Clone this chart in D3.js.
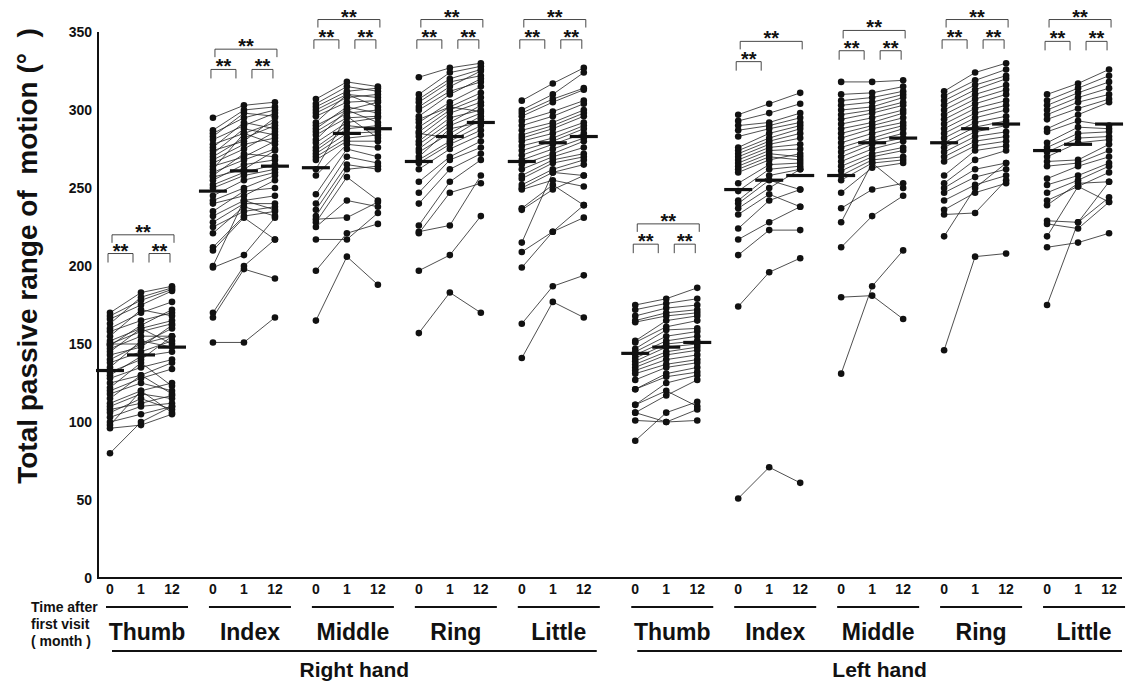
<!DOCTYPE html>
<html>
<head>
<meta charset="utf-8">
<script src="https://cdn.jsdelivr.net/npm/d3@7"></script>
<style>
  body { margin: 0; background: #fff; }
  text { font-family: "Liberation Sans", Arial, Helvetica, sans-serif; font-weight: bold; fill: #111; }
</style>
</head>
<body>
<svg id="chart" width="1133" height="684"></svg>
<script>
// categories
var hands = ["Right hand", "Left hand"];
var fingers = ["Thumb", "Index", "Middle", "Ring", "Little"];
var times = ["0", "1", "12"];
var yTicks = [0, 50, 100, 150, 200, 250, 300, 350];

// each subject: [0 month, 1 month, 12 months] total passive ROM (deg)
var rightThumb = [[170,183,187],[168,178,185],[166,175,184],[163,180,186],[160,170,177],[158,165,170],[155,172,168],[152,160,165],[150,158,163],[150,150,160],[149,162,172],[147,155,155],[145,160,150],[143,148,162],[140,150,155],[138,145,152],[135,152,148],[132,140,155],[130,142,145],[128,135,140],[125,130,138],[122,138,123],[120,128,134],[118,125,120],[115,130,118],[112,120,125],[110,118,115],[108,112,117],[106,115,108],[103,110,112],[100,105,110],[98,120,106],[96,98,105],[80,100,110]];
var rightIndex = [[295,303,305],[287,300,302],[285,295,300],[283,298,296],[281,290,298],[278,285,292],[276,292,288],[274,280,295],[272,288,284],[270,282,290],[268,278,282],[266,275,286],[264,270,280],[262,285,278],[260,268,275],[258,272,270],[257,262,274],[255,265,268],[252,260,265],[250,258,262],[245,255,260],[242,250,258],[240,245,255],[235,248,250],[232,242,245],[228,240,240],[225,235,238],[221,238,232],[212,232,235],[210,231,217],[200,242,236],[199,207,231],[170,200,217],[167,198,192],[151,151,167]];
var rightMiddle = [[307,318,315],[304,315,312],[302,312,314],[300,310,308],[298,308,310],[296,305,306],[292,310,302],[290,300,305],[288,302,298],[286,298,300],[284,295,296],[281,300,292],[279,292,295],[276,290,288],[274,288,290],[272,285,286],[270,282,284],[268,280,280],[262,296,282],[258,278,276],[246,275,270],[240,270,266],[236,265,262],[232,262,264],[230,231,241],[228,257,242],[225,242,238],[217,217,234],[197,221,227],[165,206,188]];
var rightRing = [[321,327,330],[310,324,328],[307,320,326],[305,318,322],[302,315,325],[300,312,318],[296,310,320],[294,302,299],[292,305,315],[289,302,311],[286,300,308],[285,282,294],[283,298,305],[280,295,300],[278,292,303],[275,290,298],[273,285,296],[270,288,292],[268,280,290],[266,278,287],[262,275,284],[254,270,280],[247,268,276],[240,262,272],[226,254,268],[222,226,258],[221,247,253],[197,207,232],[157,183,170]];
var rightLittle = [[306,317,327],[300,310,324],[298,307,314],[296,305,313],[293,299,306],[290,296,304],[287,292,300],[284,290,298],[282,288,296],[280,285,292],[277,282,290],[274,280,288],[271,278,285],[268,275,282],[265,272,280],[262,270,276],[258,268,272],[256,266,270],[252,262,268],[250,260,258],[249,255,251],[237,252,239],[236,249,258],[215,260,265],[209,222,231],[199,222,239],[163,187,194],[141,177,167]];
var leftThumb = [[175,179,186],[172,176,179],[168,173,175],[165,170,172],[164,168,170],[152,165,168],[151,161,165],[147,159,160],[145,155,158],[143,152,155],[141,150,152],[139,148,150],[137,145,148],[135,143,146],[133,140,143],[131,137,140],[127,135,138],[121,131,135],[121,129,132],[111,125,130],[111,120,110],[106,117,127],[106,100,108],[101,100,101],[88,106,113]];
var leftIndex = [[297,304,311],[293,298,304],[290,292,298],[287,290,295],[283,288,292],[276,285,290],[274,282,288],[272,280,285],[270,278,282],[268,276,278],[266,274,275],[264,272,270],[262,270,268],[260,268,272],[253,265,266],[248,262,264],[242,258,262],[240,255,249],[237,250,262],[233,246,238],[224,242,249],[217,228,238],[207,223,223],[174,196,205],[51,71,61]];
var leftMiddle = [[318,318,319],[310,311,315],[306,308,312],[303,305,310],[300,302,308],[297,300,305],[294,298,303],[291,295,300],[288,292,298],[285,290,295],[282,288,292],[279,285,290],[276,282,288],[273,280,285],[270,278,282],[267,275,280],[264,272,276],[261,270,274],[258,268,270],[255,266,268],[247,263,266],[237,249,253],[228,266,250],[212,232,245],[180,181,166],[131,187,210]];
var leftRing = [[312,324,330],[309,319,326],[306,316,322],[303,313,320],[300,310,316],[297,307,313],[294,304,310],[291,301,306],[288,298,303],[285,295,300],[282,292,296],[279,289,293],[276,286,290],[273,283,286],[270,280,283],[267,277,280],[258,274,277],[253,268,274],[250,262,266],[247,257,262],[242,252,258],[236,247,253],[233,234,255],[219,250,266],[146,206,208]];
var leftLittle = [[310,317,326],[306,314,322],[303,311,318],[300,308,314],[297,305,310],[294,301,307],[288,297,305],[286,293,290],[279,289,288],[276,285,286],[273,282,283],[270,279,281],[267,268,278],[264,266,274],[256,264,270],[252,258,266],[247,255,264],[242,251,260],[239,253,254],[229,228,244],[227,224,241],[219,251,241],[212,215,221],[175,228,254]];

// group means at 0, 1, 12 months (horizontal bars)
var meansRight = [[133,143,148],[248,261,264],[263,285,288],[267,283,292],[267,279,283]];
var meansLeft  = [[144,148,151],[249,255,258],[258,279,282],[279,288,291],[274,278,291]];

// significance brackets: levels (deg) of the short and the long bracket, and compared time pairs
var sigRight = [[208,220],[326,339],[345,358],[345,358],[345,358]];
var sigLeft  = [[214,227],[331,344],[338,351],[345,358],[344,358]];
var pairsAll = [[0,1],[1,2],[0,2]];
var pairsLeftIndex = [[0,1],[0,2]];

var subjects = {
  "Right hand": [rightThumb, rightIndex, rightMiddle, rightRing, rightLittle],
  "Left hand":  [leftThumb, leftIndex, leftMiddle, leftRing, leftLittle]
};
var groups = [];
hands.forEach(function(h){
  fingers.forEach(function(f, i){
    groups.push({
      hand: h, finger: f,
      subjects: subjects[h][i],
      means: (h == "Right hand" ? meansRight : meansLeft)[i],
      sig: (h == "Right hand" ? sigRight : sigLeft)[i],
      pairs: (h == "Left hand" && f == "Index") ? pairsLeftIndex : pairsAll
    });
  });
});

var svg = d3.select("#chart");
var axisX = 98;

var y = d3.scaleLinear().domain([0, 350]).range([578, 32]);

var handX = d3.scaleBand().domain(hands).range([100, 1140]).paddingInner(0.02);
var fingerX = d3.scaleBand().domain(fingers).range([0, handX.bandwidth()]);
var timeX = d3.scalePoint().domain(times).range([10, 72]);

function gx(g) { return handX(g.hand) + fingerX(g.finger); }

// y axis
var yAxis = d3.axisLeft(y).tickValues(yTicks).tickSize(0).tickPadding(6);
var ya = svg.append("g")
  .attr("transform", "translate(" + axisX + ",0)")
  .call(yAxis);
ya.select(".domain").remove();
ya.selectAll("text").style("font-size", "14px").style("font-family", null);
svg.append("line")
  .attr("x1", axisX).attr("x2", axisX)
  .attr("y1", y(350)).attr("y2", y(0))
  .attr("stroke", "#111").attr("stroke-width", 2);
svg.append("line")
  .attr("x1", axisX - 1).attr("x2", 1122)
  .attr("y1", y(0)).attr("y2", y(0))
  .attr("stroke", "#111").attr("stroke-width", 2);

// y title
svg.append("text")
  .attr("transform", "translate(37," + 256 + ") rotate(-90)")
  .attr("text-anchor", "middle")
  .style("font-size", "28px")
  .style("white-space", "pre")
  .text("Total passive range of  motion (\u00b0  )");

var line = d3.line()
  .x(function(d, i){ return timeX(times[i]); })
  .y(function(d){ return y(d); });

var gSel = svg.selectAll(".grp")
  .data(groups)
  .enter().append("g")
  .attr("class", "grp")
  .attr("transform", function(g){ return "translate(" + gx(g) + ",0)"; });

// subject lines
gSel.selectAll(".subj")
  .data(function(g){ return g.subjects; })
  .enter().append("path")
  .attr("d", line)
  .attr("fill", "none")
  .attr("stroke", "#222")
  .attr("stroke-width", 0.8);

// dots
gSel.selectAll(".dots")
  .data(function(g){ return g.subjects; })
  .enter().append("g")
  .selectAll("circle")
  .data(function(s){ return s; })
  .enter().append("circle")
  .attr("cx", function(d, i){ return timeX(times[i]); })
  .attr("cy", function(d){ return y(d); })
  .attr("r", 3.3)
  .attr("fill", "#111");

// mean bars
gSel.selectAll(".mean")
  .data(function(g){ return g.means; })
  .enter().append("line")
  .attr("x1", function(d, i){ return timeX(times[i]) - 14; })
  .attr("x2", function(d, i){ return timeX(times[i]) + 14; })
  .attr("y1", function(d){ return y(d); })
  .attr("y2", function(d){ return y(d); })
  .attr("stroke", "#111")
  .attr("stroke-width", 3.2);

// significance brackets
gSel.each(function(g){
  var sel = d3.select(this);
  g.pairs.forEach(function(p){
    var longOne = (p[1] - p[0]) == 2;
    var x1, x2, lev, leg;
    if (longOne) {
      x1 = timeX(times[0]) + 2; x2 = timeX(times[2]) + 2; lev = y(g.sig[1]); leg = 8;
    } else if (p[0] == 0) {
      x1 = timeX(times[0]) - 2; x2 = timeX(times[1]) - 8; lev = y(g.sig[0]); leg = 9;
    } else {
      x1 = timeX(times[1]) + 8; x2 = timeX(times[2]) - 2; lev = y(g.sig[0]); leg = 9;
    }
    sel.append("path")
      .attr("d", "M" + x1 + "," + (lev + leg) + "V" + lev + "H" + x2 + "V" + (lev + leg))
      .attr("fill", "none")
      .attr("stroke", "#333")
      .attr("stroke-width", 0.9);
    sel.append("text")
      .attr("x", (x1 + x2) / 2)
      .attr("y", lev + 4)
      .attr("text-anchor", "middle")
      .style("font-size", "20px")
      .text("**");
  });
});

// time labels and finger underline / names
gSel.selectAll(".tl")
  .data(times)
  .enter().append("text")
  .attr("x", function(d){ return timeX(d); })
  .attr("y", 594)
  .attr("text-anchor", "middle")
  .style("font-size", "14px")
  .text(function(d){ return d; });

gSel.append("line")
  .attr("x1", 6).attr("x2", 88)
  .attr("y1", 607).attr("y2", 607)
  .attr("stroke", "#111").attr("stroke-width", 2);

gSel.append("text")
  .attr("x", 47)
  .attr("y", 640)
  .attr("text-anchor", "middle")
  .style("font-size", "23px")
  .text(function(g){ return g.finger; });

// hand lines and names
var hSel = svg.selectAll(".hand")
  .data(hands)
  .enter().append("g")
  .attr("transform", function(h){ return "translate(" + handX(h) + ",0)"; });

hSel.append("line")
  .attr("x1", 12).attr("x2", handX.bandwidth() - 18)
  .attr("y1", 651).attr("y2", 651)
  .attr("stroke", "#111").attr("stroke-width", 2);

hSel.append("text")
  .attr("x", (handX.bandwidth() - 6) / 2)
  .attr("y", 677)
  .attr("text-anchor", "middle")
  .style("font-size", "21px")
  .text(function(h){ return h; });

// time caption
var cap = svg.append("text")
  .attr("y", 612)
  .style("font-size", "14px");
["Time after", "first visit", "( month )"].forEach(function(t, i){
  cap.append("tspan").attr("x", 31).attr("dy", i ? 17 : 0).text(t);
});
</script>
</body>
</html>
